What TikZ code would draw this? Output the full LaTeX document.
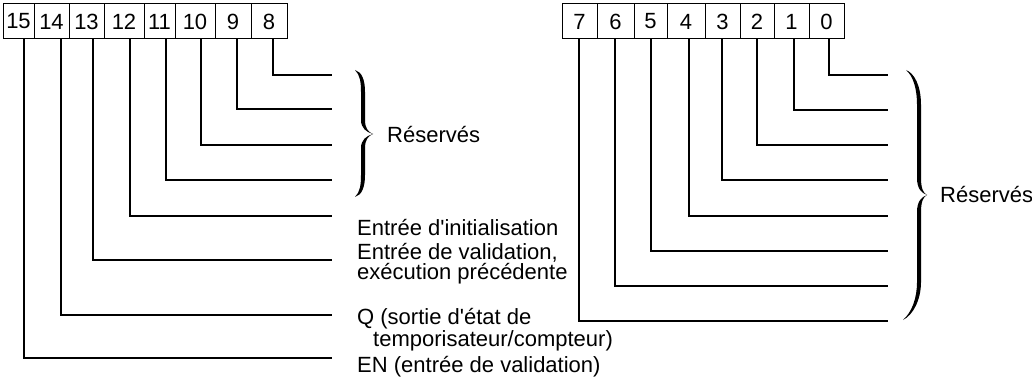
\documentclass[tikz,border=0pt]{standalone}
\usepackage{fontspec}
\setmainfont{Liberation Sans}[Ligatures=TeXOff]
\begin{document}
\begin{tikzpicture}[x=1pt,y=-1pt,
  cell/.style={draw, line width=1pt, minimum height=35pt, inner sep=0pt, font=\fontsize{22}{22}\selectfont},
  wire/.style={line width=1.5pt},
  lbl/.style={anchor=base west, inner sep=0pt, align=left, font=\fontsize{22}{20}\selectfont},
  bracefill/.style={fill=black}]
\useasboundingbox (0,0) rectangle (1032,379);
% left register: bits 15..8
\foreach \n/\l/\r/\lx/\ly in {15/3/34/24/358, 14/34/69/61/315, 13/69/104/93/260, 12/104/144/130/216, 11/144/175/166/180, 10/175/215/201/145, 9/215/251/237/109, 8/251/287/273/75}{
  \node[cell, minimum width={(\r-\l)*1pt}] (c\n) at ({(\l+\r)/2},21.5) {\n};
  \coordinate (e\n) at (332,\ly);
  \draw[wire] ([xshift={(\lx-(\l+\r)/2)*1pt}]c\n.south) |- (e\n);
}
% right register: bits 7..0
\foreach \n/\l/\r/\lx/\ly in {7/562/597/579/321, 6/597/634/615/286, 5/634/667/651/251, 4/667/705/689/216, 3/705/740/722/180, 2/740/774/757/145, 1/774/809/794/110, 0/809/844/829/75}{
  \node[cell, minimum width={(\r-\l)*1pt}] (c\n) at ({(\l+\r)/2},21.5) {\n};
  \coordinate (e\n) at (888,\ly);
  \draw[wire] ([xshift={(\lx-(\l+\r)/2)*1pt}]c\n.south) |- (e\n);
}
% braces
\fill[bracefill] (355,70) .. controls (362,72) and (365,80) .. (365,92) -- (365,120) .. controls (365,128) and (368,132) .. (373,134) .. controls (366,132) and (361,128) .. (361,120) -- (361,92) .. controls (361,82) and (360,75) .. (355,70) -- cycle;
\fill[bracefill] (355,197) .. controls (362,195) and (365,187) .. (365,175) -- (365,148) .. controls (365,140) and (368,136) .. (373,134) .. controls (366,136) and (361,140) .. (361,148) -- (361,175) .. controls (361,185) and (360,192) .. (355,197) -- cycle;
\fill[bracefill] (906,70) .. controls (914,73) and (921,85) .. (921,105) -- (921,178) .. controls (921,188) and (923,193) .. (927,195) .. controls (921,193) and (917,188) .. (917,178) -- (917,105) .. controls (917,88) and (913,76) .. (906,70) -- cycle;
\fill[bracefill] (903,320) .. controls (913,315) and (921,300) .. (921,282) -- (921,212) .. controls (921,202) and (923,197) .. (927,195) .. controls (921,197) and (917,202) .. (917,212) -- (917,282) .. controls (917,298) and (912,312) .. (903,320) -- cycle;
% labels (base anchor = baseline of the last line)
\node[lbl] (resL) at (387,143) {Réservés};
\node[lbl] (resR) at (940,203) {Réservés};
\node[lbl] (init) at (357,236) {Entrée d'initialisation};
\node[lbl] (valid) at (357,279) {Entrée de validation,\\exécution précédente};
\node[lbl] (q) at (357,346) {Q (sortie d'état de\\\hspace*{16pt}temporisateur/compteur)};
\node[lbl] (en) at (357,372) {EN (entrée de validation)};
\end{tikzpicture}
\end{document}
